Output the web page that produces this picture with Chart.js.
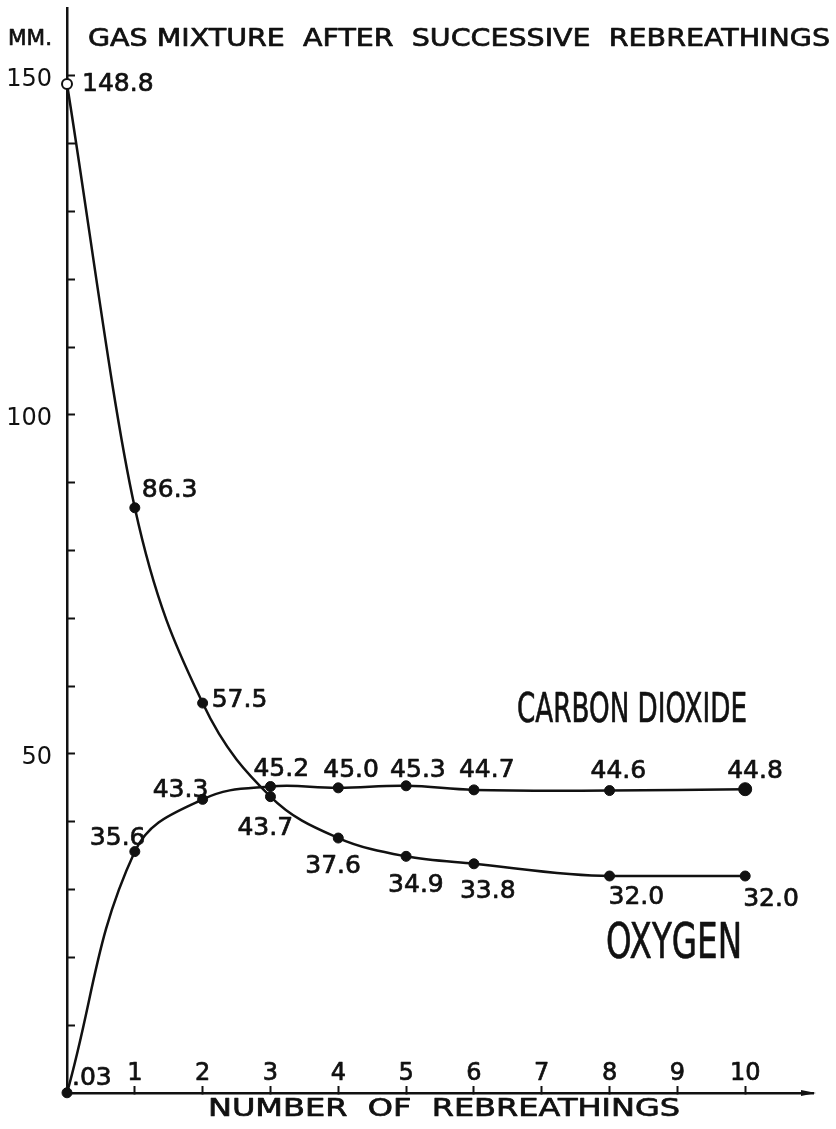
<!DOCTYPE html>
<html>
<head>
<meta charset="utf-8">
<script src="https://cdn.jsdelivr.net/npm/chart.js@4/dist/chart.umd.min.js"></script>
<style>
html,body{margin:0;padding:0;background:#fff;}
#wrap{width:836px;height:1129px;position:relative;}
canvas{display:block;}
</style>
</head>
<body>
<div id="wrap"><canvas id="c" width="836" height="1129"></canvas></div>
<script>
// ---- data ----
const rebreathings = [0, 1, 2, 3, 4, 5, 6, 8, 10];
const oxygen = [148.8, 86.3, 57.5, 43.7, 37.6, 34.9, 33.8, 32.0, 32.0];
const carbonDioxide = [0.03, 35.6, 43.3, 45.2, 45.0, 45.3, 44.7, 44.6, 44.8];
const oxygenLabels = ['148.8', '86.3', '57.5', '43.7', '37.6', '34.9', '33.8', '32.0', '32.0'];
const co2Labels = ['.03', '35.6', '43.3', '45.2', '45.0', '45.3', '44.7', '44.6', '44.8'];
const xTickLabels = ['', '1', '2', '3', '4', '5', '6', '7', '8', '9', '10'];
const yTickLabels = { 50: '50', 100: '100', 150: '150' };

// ---- label placement (pixel offsets from each point: left edge, baseline) ----
const oxyLabelOffset = [[15, 7], [7, -11], [9, 4], [-33, 38], [-33, 35], [-18, 36], [-14, 34], [-1, 28], [-2, 30]];
const co2LabelOffset = [[5, -8], [-45, -7], [-50, -2], [-17, -10], [-15, -11], [-16, -9], [-15, -13], [-19, -13], [-18, -11]];

const INK = '#111';
const FONT = '"DejaVu Sans", sans-serif';

function inkText(ctx, text, x, y) {
  ctx.fillText(text, x, y);
  ctx.strokeText(text, x, y);
}

function fitText(ctx, text, x, baseline, width, size) {
  ctx.save();
  ctx.font = size + 'px ' + FONT;
  ctx.textAlign = 'left';
  ctx.textBaseline = 'alphabetic';
  const w = ctx.measureText(text).width;
  ctx.translate(x, baseline);
  ctx.scale(width / w, 1);
  inkText(ctx, text, 0, 0);
  ctx.restore();
}

const annotations = {
  id: 'annotations',
  afterDatasetsDraw(chart) {
    const ctx = chart.ctx;
    const xs = chart.scales.x, ys = chart.scales.y;
    ctx.save();
    ctx.fillStyle = INK;
    ctx.strokeStyle = INK;
    ctx.lineWidth = 0.7;
    ctx.lineJoin = 'round';
    // titles
    fitText(ctx, 'MM.', 8, 45, 44, 22);
    fitText(ctx, 'GAS MIXTURE  AFTER  SUCCESSIVE  REBREATHINGS', 88, 46, 742, 25);
    fitText(ctx, 'NUMBER  OF  REBREATHINGS', 208, 1116, 472, 24);
    fitText(ctx, 'CARBON DIOXIDE', 517, 722, 230, 40);
    fitText(ctx, 'OXYGEN', 606, 958, 136, 49);
    // x tick labels (above the axis line)
    ctx.font = '24px ' + FONT;
    ctx.textAlign = 'center';
    ctx.textBaseline = 'alphabetic';
    xs.ticks.forEach(t => {
      const lab = xTickLabels[t.value];
      if (lab) inkText(ctx, lab, xs.getPixelForValue(t.value), chart.chartArea.bottom - 13);
    });
    // data labels
    ctx.font = '25px ' + FONT;
    ctx.textAlign = 'left';
    rebreathings.forEach((r, i) => {
      const px = xs.getPixelForValue(r);
      inkText(ctx, oxygenLabels[i], px + oxyLabelOffset[i][0], ys.getPixelForValue(oxygen[i]) + oxyLabelOffset[i][1]);
      inkText(ctx, co2Labels[i], px + co2LabelOffset[i][0], ys.getPixelForValue(carbonDioxide[i]) + co2LabelOffset[i][1]);
    });
    // arrow tip on x axis
    const ax = chart.chartArea.right, ay = chart.chartArea.bottom;
    ctx.beginPath();
    ctx.moveTo(ax - 12, ay - 3);
    ctx.lineTo(ax + 3, ay);
    ctx.lineTo(ax - 12, ay + 3);
    ctx.closePath();
    ctx.fill();
    ctx.restore();
  }
};

const pointsOf = arr => rebreathings.map((x, i) => ({ x: x, y: arr[i] }));
const noPad = s => { s.paddingTop = 0; s.paddingBottom = 0; s.paddingLeft = 0; s.paddingRight = 0; };

new Chart(document.getElementById('c'), {
  type: 'line',
  data: {
    datasets: [
      {
        label: 'Oxygen',
        data: pointsOf(oxygen),
        borderColor: INK,
        borderWidth: 2.5,
        cubicInterpolationMode: 'monotone',
        pointRadius: 5,
        pointBackgroundColor: c => c.dataIndex === 0 ? '#fff' : INK,
        pointBorderColor: INK,
        pointBorderWidth: c => c.dataIndex === 0 ? 2 : 1,
        fill: false,
        clip: false
      },
      {
        label: 'Carbon dioxide',
        data: pointsOf(carbonDioxide),
        borderColor: INK,
        borderWidth: 2.5,
        tension: 0.4,
        pointRadius: c => c.dataIndex === rebreathings.length - 1 ? 6.5 : 5,
        pointBackgroundColor: INK,
        pointBorderColor: INK,
        pointBorderWidth: 1,
        fill: false,
        clip: false
      }
    ]
  },
  options: {
    responsive: false,
    animation: false,
    events: [],
    plugins: { legend: { display: false }, tooltip: { enabled: false } },
    layout: { padding: { left: 0, right: 23, top: 8, bottom: 36 } },
    scales: {
      x: {
        type: 'linear',
        min: 0,
        max: 11,
        afterFit: s => { s.height = 0; noPad(s); },
        border: { display: true, color: INK, width: 2.5 },
        grid: {
          display: true,
          drawOnChartArea: false,
          drawTicks: true,
          tickLength: -7,
          tickWidth: 2,
          tickColor: c => (c.tick && c.tick.value > 0 && c.tick.value <= 10) ? INK : 'rgba(0,0,0,0)'
        },
        ticks: {
          display: false,
          stepSize: 1,
          autoSkip: false,
          maxRotation: 0
        }
      },
      y: {
        min: 0,
        max: 160,
        afterFit: s => { s.width = 67; noPad(s); },
        border: { display: true, color: INK, width: 2.5 },
        grid: {
          display: true,
          drawOnChartArea: false,
          drawTicks: true,
          tickLength: -8,
          tickWidth: 2,
          tickColor: c => (c.tick && c.tick.value > 0 && c.tick.value < 160) ? INK : 'rgba(0,0,0,0)'
        },
        ticks: {
          stepSize: 10,
          autoSkip: false,
          padding: 23,
          labelOffset: 4,
          color: INK,
          font: { family: FONT, size: 24 },
          callback: v => yTickLabels[v] !== undefined ? yTickLabels[v] : ''
        }
      }
    }
  },
  plugins: [annotations]
});
</script>
</body>
</html>
